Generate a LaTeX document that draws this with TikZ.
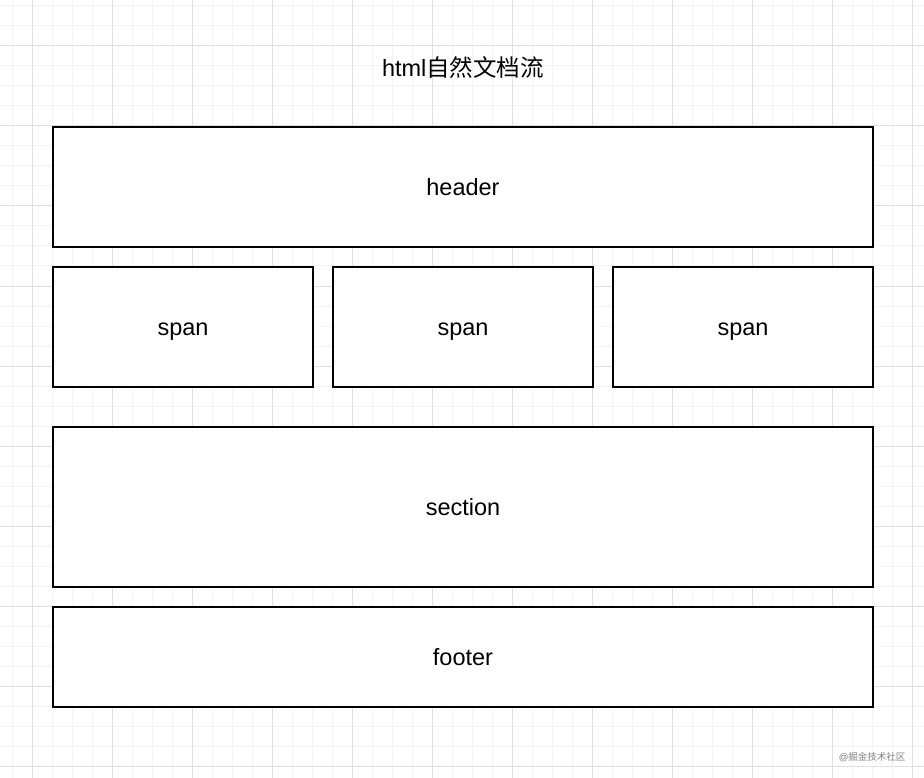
\documentclass[tikz,border=0pt]{standalone}
\usepackage{fontspec}
\setmainfont{Liberation Sans}
\newfontfamily\cjk{Noto Sans CJK SC}
\usepackage{tikz}
\usetikzlibrary{positioning}

\begin{document}
\begin{tikzpicture}[x=1pt, y=-1pt,
  blockbox/.style={draw=black, line width=1.6pt, fill=white, inner sep=0pt, text height=17pt, text depth=0pt, font=\fontsize{23.5}{26}\selectfont},
  minorline/.style={draw={rgb,255:red,244;green,244;blue,244}, line width=1pt},
  majorline/.style={draw={rgb,255:red,224;green,224;blue,224}, line width=1pt}]
\useasboundingbox[fill=white] (0,0) rectangle (924,778);
\foreach \gx in {12,32,...,912} \draw[minorline] (\gx,0) -- (\gx,778);
\foreach \gy in {6,26,...,766} \draw[minorline] (0,\gy) -- (924,\gy);
\foreach \gx in {32,112,...,912} \draw[majorline] (\gx,0) -- (\gx,778);
\foreach \gy in {46,126,...,766} \draw[majorline] (0,\gy) -- (924,\gy);
\node[font=\fontsize{23.5}{26}\selectfont] (title) at (463,68) {html{\cjk 自然文档流}};
\node[blockbox, minimum width=820pt, minimum height=120pt] (header) at (463,187) {header};
\node[blockbox, minimum width=260pt, minimum height=120pt] (span1) at (183,327) {span};
\node[blockbox, minimum width=260pt, minimum height=120pt] (span2) at (463,327) {span};
\node[blockbox, minimum width=260pt, minimum height=120pt] (span3) at (743,327) {span};
\node[blockbox, minimum width=820pt, minimum height=160pt] (section) at (463,507) {section};
\node[blockbox, minimum width=820pt, minimum height=100pt] (footer) at (463,657) {footer};
\node[gray, font=\fontsize{9.5}{11}\selectfont, anchor=east] (mark) at (909,757) {@{\cjk 掘金技术社区}};
\end{tikzpicture}
\end{document}
